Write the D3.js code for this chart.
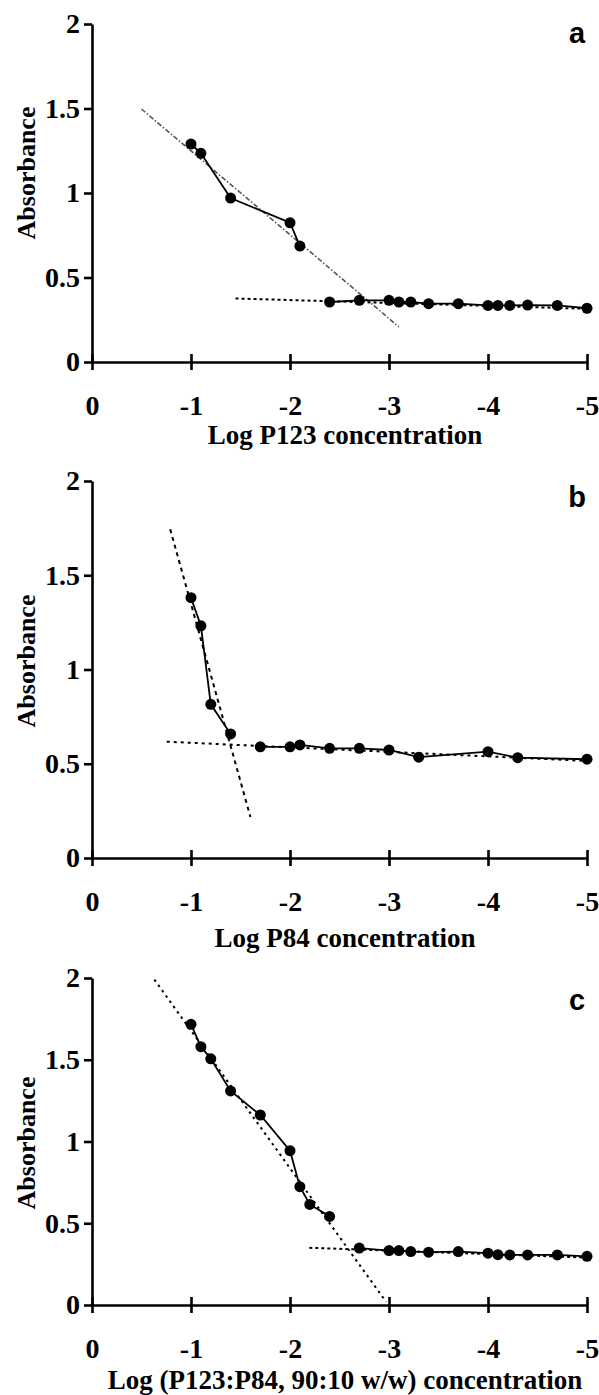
<!DOCTYPE html>
<html>
<head>
<meta charset="utf-8">
<script src="https://cdn.jsdelivr.net/npm/d3@7"></script>
<style>
  body { margin: 0; background: #fff; }
  svg { display: block; }
</style>
</head>
<body>
<div id="chart"></div>
<script>
// tick labels
const xTicks = [0, -1, -2, -3, -4, -5];
const yTicks = [0, 0.5, 1, 1.5, 2];

// a: P123 (two measured segments, above and below the break)
const p123HighLog = [-1, -1.1, -1.4, -2, -2.1];
const p123HighAbs = [1.29, 1.235, 0.97, 0.824, 0.686];
const p123LowLog = [-2.4, -2.7, -3, -3.1, -3.22, -3.4, -3.7, -4, -4.1, -4.22, -4.4, -4.7, -5];
const p123LowAbs = [0.355, 0.365, 0.365, 0.355, 0.355, 0.345, 0.345, 0.335, 0.335, 0.335, 0.337, 0.335, 0.318];
const p123SteepLog = [-0.5, -3.1];
const p123SteepAbs = [1.497, 0.208];
const p123FlatLog = [-1.45, -5];
const p123FlatAbs = [0.376, 0.315];

// b: P84
const p84HighLog = [-1, -1.1, -1.2, -1.4];
const p84HighAbs = [1.381, 1.232, 0.815, 0.658];
const p84LowLog = [-1.7, -2, -2.1, -2.4, -2.7, -3, -3.3, -4, -4.3, -5];
const p84LowAbs = [0.59, 0.59, 0.6, 0.582, 0.582, 0.573, 0.535, 0.564, 0.532, 0.524];
const p84SteepLog = [-0.79, -1.6];
const p84SteepAbs = [1.744, 0.218];
const p84FlatLog = [-0.755, -5];
const p84FlatAbs = [0.617, 0.515];

// c: P123:P84 90:10
const mixHighLog = [-1, -1.1, -1.2, -1.4, -1.7, -2, -2.1, -2.2, -2.4];
const mixHighAbs = [1.717, 1.58, 1.506, 1.309, 1.162, 0.944, 0.724, 0.615, 0.542];
const mixLowLog = [-2.7, -3, -3.1, -3.22, -3.4, -3.7, -4, -4.1, -4.22, -4.4, -4.7, -5];
const mixLowAbs = [0.348, 0.333, 0.333, 0.327, 0.323, 0.327, 0.317, 0.308, 0.306, 0.306, 0.306, 0.298];
const mixSteepLog = [-0.63, -2.97];
const mixSteepAbs = [1.99, 0.02];
const mixFlatLog = [-2.195, -5];
const mixFlatAbs = [0.35, 0.29];

const width = 599, height = 1395;
const serif = '"Liberation Serif", "Times New Roman", Times, serif';

const panels = [
  { letter: "a", title: "Log P123 concentration",
    series: [[p123HighLog, p123HighAbs], [p123LowLog, p123LowAbs]],
    fits: [
      { xs: p123SteepLog, ys: p123SteepAbs, dash: "5,2,1.5,2", color: "#555", w: 1.6 },
      { xs: p123FlatLog, ys: p123FlatAbs, dash: "3,3", color: "#000", w: 2 }
    ],
    top: 24, bottom: 362, titleY: 444, labelY: 173, letterY: 43 },
  { letter: "b", title: "Log P84 concentration",
    series: [[p84HighLog, p84HighAbs], [p84LowLog, p84LowAbs]],
    fits: [
      { xs: p84SteepLog, ys: p84SteepAbs, dash: "4,4", color: "#000", w: 2 },
      { xs: p84FlatLog, ys: p84FlatAbs, dash: "3,4", color: "#000", w: 2 }
    ],
    top: 481, bottom: 858, titleY: 947, labelY: 661, letterY: 507 },
  { letter: "c", title: "Log (P123:P84, 90:10 w/w) concentration",
    series: [[mixHighLog, mixHighAbs], [mixLowLog, mixLowAbs]],
    fits: [
      { xs: mixSteepLog, ys: mixSteepAbs, dash: "2.5,4", color: "#000", w: 2 },
      { xs: mixFlatLog, ys: mixFlatAbs, dash: "3,3", color: "#000", w: 2 }
    ],
    top: 978, bottom: 1305, titleY: 1389, labelY: 1143, letterY: 1010 }
];

const svg = d3.select("#chart")
  .append("svg")
  .attr("width", width)
  .attr("height", height);

svg.append("rect").attr("width", width).attr("height", height).attr("fill", "#fff");

let x = d3.scaleLinear()
  .domain([0, -5])
  .range([92, 587]);

panels.forEach(p => {
  let y = d3.scaleLinear()
    .domain([0, 2])
    .range([p.bottom, p.top]);

  const g = svg.append("g");
  const line = d3.line().x(d => x(d[0])).y(d => y(d[1]));

  // fitted lines
  p.fits.forEach(f => {
    g.append("path")
      .datum(f.xs.map((v, i) => [v, f.ys[i]]))
      .attr("fill", "none")
      .attr("stroke", f.color)
      .attr("stroke-width", f.w)
      .attr("stroke-dasharray", f.dash)
      .attr("d", line);
  });

  p.series.forEach(([xs, ys]) => {
    const pts = xs.map((v, i) => [v, ys[i]]);

    g.append("path")
      .datum(pts)
      .attr("fill", "none")
      .attr("stroke", "#000")
      .attr("stroke-width", 1.8)
      .attr("d", line);

    g.append("g")
      .attr("fill", "#000")
      .selectAll("circle")
      .data(pts)
      .join("circle")
      .attr("cx", d => x(d[0]))
      .attr("cy", d => y(d[1]))
      .attr("r", 5.5);
  });

  // y axis
  g.append("g")
    .attr("transform", `translate(${x(0)},0)`)
    .call(d3.axisLeft(y).tickValues(yTicks).tickFormat(d => String(d)).tickSize(8).tickSizeOuter(0).tickPadding(4))
    .call(a => a.selectAll("path, line").attr("stroke", "#000").attr("stroke-width", 2.6))
    .call(a => a.selectAll("text")
      .attr("fill", "#000")
      .style("font-family", serif)
      .style("font-weight", "bold")
      .style("font-size", "28px"));

  // x axis, ticks cross the line
  g.append("g")
    .attr("transform", `translate(0,${p.bottom})`)
    .call(d3.axisBottom(x).tickValues(xTicks).tickFormat(d => String(d)).tickSize(8).tickSizeOuter(0))
    .call(a => a.selectAll("path, line").attr("stroke", "#000").attr("stroke-width", 2.6))
    .call(a => a.selectAll(".tick line").attr("y1", -8))
    .call(a => a.selectAll("text")
      .attr("y", 33)
      .attr("fill", "#000")
      .style("font-family", serif)
      .style("font-weight", "bold")
      .style("font-size", "28px"));

  g.append("text")
    .attr("x", 345)
    .attr("y", p.titleY)
    .attr("text-anchor", "middle")
    .style("font-family", serif)
    .style("font-weight", "bold")
    .style("font-size", "27px")
    .text(p.title);

  g.append("text")
    .attr("transform", `translate(35,${p.labelY}) rotate(-90)`)
    .attr("text-anchor", "middle")
    .style("font-family", serif)
    .style("font-weight", "bold")
    .style("font-size", "26px")
    .text("Absorbance");

  g.append("text")
    .attr("x", 577)
    .attr("y", p.letterY)
    .attr("text-anchor", "middle")
    .style("font-family", '"Liberation Sans", Arial, sans-serif')
    .style("font-weight", "bold")
    .style("font-size", "29px")
    .text(p.letter);
});
</script>
</body>
</html>
